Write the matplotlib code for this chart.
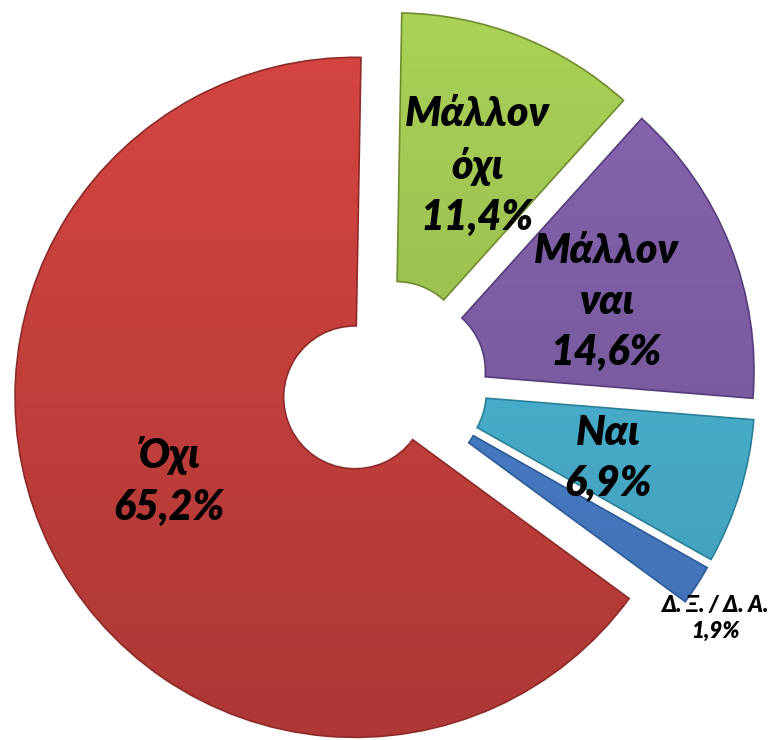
import matplotlib
matplotlib.use('Agg')
import matplotlib.pyplot as plt
import matplotlib.colors as mcolors
import numpy as np

# ---- data ----
categories = ['Μάλλον\nόχι', 'Μάλλον\nναι', 'Ναι', 'Δ. Ξ. / Δ. Α.', 'Όχι']
values = [11.4, 14.6, 6.9, 1.9, 65.2]
pct_labels = ['11,4%', '14,6%', '6,9%', '1,9%', '65,2%']
colors = ['#A0C452', '#7E5FA6', '#4AB3D2', '#4A7FCB', '#C9413E']
edge_colors = ['#6E8C2E', '#563C7C', '#2A7F99', '#2D5A99', '#8E2A28']

FONT = ['Lato', 'Open Sans', 'DejaVu Sans']

fig = plt.figure(figsize=(7.74, 7.40), dpi=100)
ax = fig.add_axes([0, 0, 1, 1])

wedges, _ = ax.pie(values, colors=colors, startangle=89, counterclock=False,
                   explode=[0.095] * len(values), radius=1.0,
                   wedgeprops=dict(width=0.79, linewidth=1.2))

ax.set_aspect('auto')
R_px = 340.0
cx_px, cy_px = 384.0, 383.0
x0, x1 = -cx_px / R_px, (774 - cx_px) / R_px
y0, y1 = -(740 - cy_px) / R_px, cy_px / R_px
ax.set_xlim(x0, x1)
ax.set_ylim(y0, y1)
ax.axis('off')

# subtle vertical shading inside each wedge
ny = 200
fy = np.linspace(1.07, 0.86, ny)[:, None]
for w, c, ec in zip(wedges, colors, edge_colors):
    base = np.array(mcolors.to_rgb(c))
    img = np.clip(base[None, None, :] * fy[:, :, None] * np.ones((1, 2, 1)), 0, 1)
    im = ax.imshow(img, extent=(x0, x1, y0, y1), origin='upper',
                   aspect='auto', interpolation='bilinear', zorder=w.get_zorder() + 0.1)
    im.set_clip_path(w)
    w.set_edgecolor(ec)
    w.set_zorder(w.get_zorder() + 0.2)
    w.set_facecolor('none')

ax.set_xlim(x0, x1)
ax.set_ylim(y0, y1)

for w, cat, pct in zip(wedges, categories, pct_labels):
    span = w.theta2 - w.theta1
    small = span < 15
    if small:
        ang = np.deg2rad(w.theta1 + 0.1 * span)
        d = 1.10
    else:
        ang = np.deg2rad((w.theta1 + w.theta2) / 2 - 2)
        d = 0.60
    x = w.center[0] + d * w.r * np.cos(ang)
    y = w.center[1] + d * w.r * np.sin(ang)
    ax.text(x, y, cat + '\n' + pct, ha='center', va='center',
            fontsize=16 if small else 29.5, fontweight='heavy', style='italic',
            family=FONT, linespacing=1.3 if small else 1.42, color='black',
            zorder=10)

fig.savefig('out.png', dpi=100)
